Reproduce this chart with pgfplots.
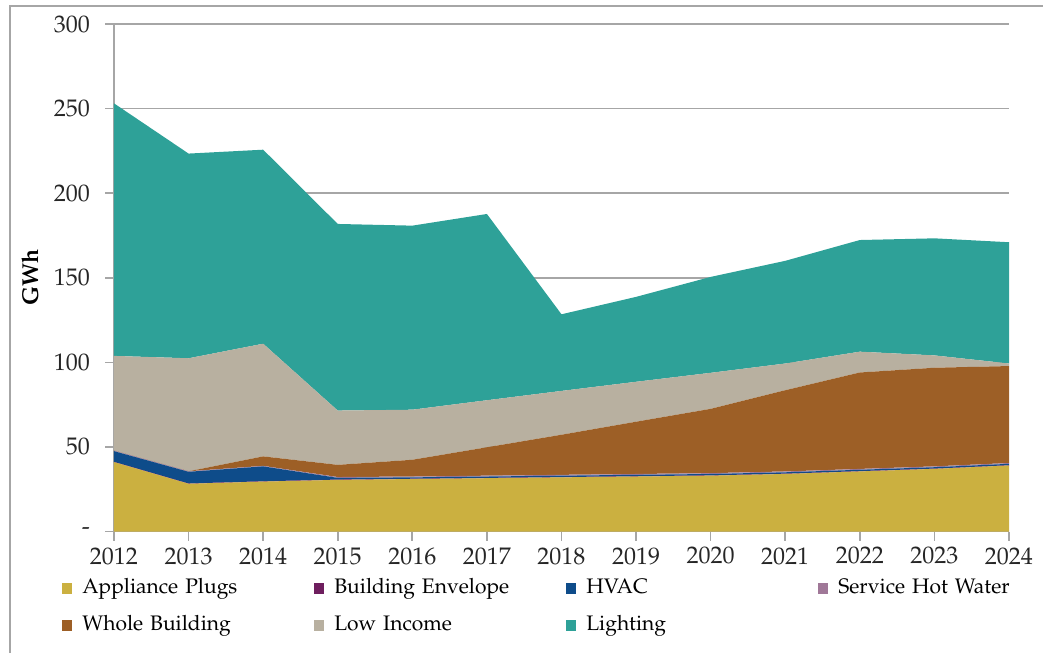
\documentclass[border=0pt]{standalone}
\usepackage[T1]{fontenc}
\usepackage{mathpazo}
\usepackage{pgfplots}
\pgfplotsset{compat=1.18}

\definecolor{cPlug}{HTML}{CBB040}
\definecolor{cEnv}{HTML}{6E1E5E}
\definecolor{cHvac}{HTML}{0E4C8A}
\definecolor{cShw}{HTML}{A07898}
\definecolor{cWhole}{HTML}{9D5F26}
\definecolor{cLow}{HTML}{B8B0A0}
\definecolor{cLight}{HTML}{2EA198}
\definecolor{axgray}{HTML}{A6A6A6}

% stacked values by year, GWh
\pgfplotstableread{
year plug  env hvac shw whole low  light
2012 41.0  0.2 6.3  0.3 0.0   56.0 149.3
2013 28.2  0.2 6.9  0.3 0.0   66.8 121.0
2014 29.5  0.2 8.8  0.3 5.6   66.6 114.7
2015 30.5  0.2 1.0  0.5 7.2   32.1 110.3
2016 31.0  0.2 0.8  0.5 9.9   29.6 108.8
2017 31.5  0.2 0.8  0.5 16.8  27.8 110.1
2018 32.0  0.2 0.8  0.5 23.7  25.9 45.3
2019 32.5  0.2 0.8  0.5 30.9  23.6 50.2
2020 33.0  0.2 0.8  0.5 38.0  21.3 56.7
2021 34.0  0.2 0.8  0.5 48.0  15.8 60.7
2022 35.5  0.2 0.8  0.5 57.0  12.3 66.0
2023 37.0  0.2 0.8  0.5 58.3  7.3  69.2
2024 39.0  0.2 0.8  0.5 57.3  1.5  71.7
}\energy

\begin{document}
\begin{tikzpicture}
\begin{axis}[
  name=ax,
  scale only axis,
  width=447.5pt, height=253.75pt,
  xmin=2012, xmax=2024,
  ymin=0, ymax=300,
  stack plots=y,
  axis lines=left,
  axis line style={-, draw=axgray, line width=0.8pt},
  xtick={2012,...,2024},
  ytick={0,50,...,300},
  yticklabels={-,50,100,150,200,250,300},
  xticklabel style={/pgf/number format/1000 sep=},
  tick align=outside,
  major tick length=4.5pt,
  tick style={draw=axgray, line width=0.8pt},
  ymajorgrids,
  grid style={draw=axgray, line width=0.8pt},
  tick label style={font=\fontsize{12}{14}\selectfont, text=black!85},
  yticklabel style={xshift=-4pt},
  ylabel={\textbf{GWh}},
  every axis y label/.style={at={([xshift=-42pt]axis description cs:0,0.5)}, rotate=90,
    anchor=center, font=\fontsize{11.5}{14}\selectfont},
  legend columns=4,
  legend cell align=left,
  legend image code/.code={\fill[#1] (0pt,-2.6pt) rectangle (5pt,2.9pt);},
  legend style={
    at={([xshift=-26pt,yshift=-23pt]current axis.south west)}, anchor=north west,
    draw=none, fill=none, inner sep=0pt,
    font=\fontsize{10.5}{12}\selectfont,
    row sep=8pt,
    nodes={text width=116pt, text height=8pt, text depth=2.5pt, inner xsep=0pt, inner ysep=0pt},
    /tikz/every odd column/.append style={column sep=5pt},
  },
  clip=false,
]
\addplot[draw=none, fill=cPlug] table[x=year, y=plug] {\energy} \closedcycle;
\addplot[draw=none, fill=cEnv] table[x=year, y=env] {\energy} \closedcycle;
\addplot[draw=none, fill=cHvac] table[x=year, y=hvac] {\energy} \closedcycle;
\addplot[draw=none, fill=cShw] table[x=year, y=shw] {\energy} \closedcycle;
\addplot[draw=none, fill=cWhole] table[x=year, y=whole] {\energy} \closedcycle;
\addplot[draw=none, fill=cLow] table[x=year, y=low] {\energy} \closedcycle;
\addplot[draw=none, fill=cLight] table[x=year, y=light] {\energy} \closedcycle;
\legend{Appliance Plugs, Building Envelope, HVAC, Service Hot Water, Whole Building, Low Income, Lighting}
\end{axis}
% page = the cropped chart area; outer frame shows only top and left edges
\pgfresetboundingbox
\useasboundingbox ([xshift=-57pt,yshift=-60.75pt]ax.south west) rectangle ([xshift=464.5pt,yshift=265.75pt]ax.south west);
\draw[axgray, line width=0.8pt]
  ([xshift=-52pt,yshift=-60.75pt]ax.south west) -- ([xshift=-52pt,yshift=262.75pt]ax.south west)
  -- ([xshift=464.5pt,yshift=262.75pt]ax.south west);
\end{tikzpicture}
\end{document}
